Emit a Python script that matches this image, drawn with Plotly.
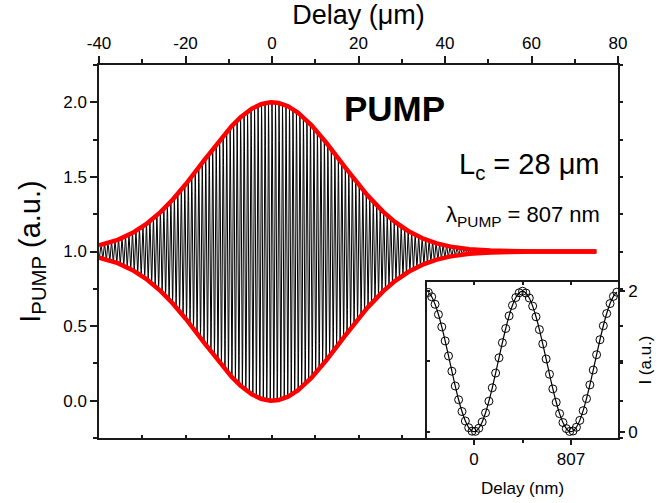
import numpy as np
import plotly.graph_objects as go

# ---- values ----
DELAY_START_UM = -40.0      # first delay of the scan (µm)
DELAY_END_UM = 75.0         # last delay of the scan (µm)
WAVELENGTH_UM = 0.807       # λ_PUMP, fringe period (µm)
ENVELOPE_SIGMA_UM = 15.8    # Gaussian width of fringe envelope (µm)
BASELINE = 1.0              # background intensity

main_x_range = [-40, 80]
main_y_range = [-0.25, 2.25]
main_x_ticks = [-40, -20, 0, 20, 40, 60, 80]
main_x_ticktext = ["-40", "-20", "0", "20", "40", "60", "80"]

inset_delay_nm = [-380, -352, -324, -296, -268, -240, -212, -184, -156, -128,
                  -100, -72, -44, -16, 12, 40, 68, 96, 124, 152,
                  180, 208, 236, 264, 292, 320, 348, 376, 404, 432,
                  460, 488, 516, 544, 572, 600, 628, 656, 684, 712,
                  740, 768, 796, 824, 852, 880, 908, 936, 964, 992,
                  1020, 1048, 1076, 1104, 1132, 1160, 1188]
inset_intensity = [1.983, 1.921, 1.814, 1.669, 1.492, 1.292, 1.078, 0.861, 0.650, 0.455,
                   0.287, 0.152, 0.057, 0.007, 0.005, 0.049, 0.138, 0.269, 0.434, 0.625,
                   0.835, 1.052, 1.267, 1.469, 1.649, 1.799, 1.910, 1.978, 2.000, 1.974,
                   1.903, 1.788, 1.636, 1.454, 1.250, 1.035, 0.818, 0.609, 0.419, 0.257,
                   0.130, 0.044, 0.003, 0.010, 0.063, 0.161, 0.299, 0.470, 0.666, 0.878,
                   1.096, 1.309, 1.508, 1.682, 1.824, 1.927, 1.986]
inset_x_range = [-391, 1198]
inset_y_range = [-0.09, 2.13]
inset_tick_vals = [0, 807]
inset_tick_text = ["0", "807"]

# ---- interferogram ----
delay_um = np.linspace(DELAY_START_UM, DELAY_END_UM, 8000)
envelope = np.exp(-delay_um**2 / (2 * ENVELOPE_SIGMA_UM**2))
signal = BASELINE + envelope * np.cos(2 * np.pi * delay_um / WAVELENGTH_UM)
upper = BASELINE + envelope
lower = BASELINE - envelope

AX = "#1a1a1a"
FONT = "Arial, Liberation Sans, sans-serif"

fig = go.Figure()
fig.add_trace(go.Scatter(x=delay_um, y=signal, mode="lines",
                         line=dict(color="black", width=1), hoverinfo="skip"))
fig.add_trace(go.Scatter(x=delay_um, y=upper, mode="lines",
                         line=dict(color="#ff0000", width=4.5), hoverinfo="skip"))
fig.add_trace(go.Scatter(x=delay_um, y=lower, mode="lines",
                         line=dict(color="#ff0000", width=4.5), hoverinfo="skip"))
fig.add_trace(go.Scatter(x=inset_delay_nm, y=inset_intensity, mode="lines",
                         line=dict(color="black", width=1.2, shape="spline"),
                         xaxis="x2", yaxis="y2", hoverinfo="skip"))
fig.add_trace(go.Scatter(x=inset_delay_nm, y=inset_intensity, mode="markers",
                         marker=dict(symbol="circle-open", size=8, color="black",
                                     line=dict(width=1)),
                         xaxis="x2", yaxis="y2", hoverinfo="skip"))
# invisible helpers so that the mirrored frame axes get drawn
fig.add_trace(go.Scatter(x=[0], y=[1], mode="markers", opacity=0,
                         xaxis="x3", yaxis="y3", hoverinfo="skip"))
fig.add_trace(go.Scatter(x=[0], y=[1], mode="markers", opacity=0,
                         xaxis="x4", yaxis="y4", hoverinfo="skip"))

common = dict(showgrid=False, zeroline=False, showline=True, linecolor=AX,
              linewidth=1.5, tickcolor=AX, tickwidth=1.5, automargin=False)

fig.update_layout(
    width=659, height=503,
    margin=dict(l=99, r=41, t=65, b=65, autoexpand=False),
    plot_bgcolor="white", paper_bgcolor="white",
    showlegend=False,
    font=dict(family=FONT, color="black"),
    xaxis=dict(domain=[0, 1], anchor="y", side="top", range=main_x_range,
               tickmode="array", tickvals=main_x_ticks, ticktext=main_x_ticktext,
               ticks="outside", ticklen=7,
               tickfont=dict(size=17),
               minor=dict(tickmode="array", tickvals=[-30, -10, 10, 30, 50, 70],
                          ticks="outside", ticklen=4,
                          tickcolor=AX, tickwidth=1.5, showgrid=False),
               title=dict(text="Delay (μm)", font=dict(size=27), standoff=4),
               **common),
    xaxis3=dict(overlaying="x", anchor="y", side="bottom", range=main_x_range,
                tick0=0, dtick=10, ticks="inside", ticklen=3,
                showticklabels=False, **common),
    yaxis=dict(domain=[0, 1], anchor="x", range=main_y_range,
               tick0=0, dtick=0.5, tickformat=".1f", ticks="outside", ticklen=7,
               tickfont=dict(size=17),
               minor=dict(dtick=0.25, tick0=0, ticks="outside", ticklen=4,
                          tickcolor=AX, tickwidth=1.5, showgrid=False),
               title=dict(text="I<sub>PUMP</sub> (a.u.)", font=dict(size=29), standoff=14),
               **common),
    yaxis3=dict(overlaying="y", anchor="x", side="right", range=main_y_range,
                tick0=0, dtick=0.25, ticks="outside", ticklen=3,
                showticklabels=False, **common),
    xaxis2=dict(domain=[0.632, 1], anchor="y2", range=inset_x_range,
                tickmode="array", tickvals=inset_tick_vals, ticktext=inset_tick_text,
                ticks="outside", ticklen=5, tickfont=dict(size=17),
                minor=dict(tickmode="array", tickvals=[403.5], ticks="outside",
                           ticklen=3, tickcolor=AX, tickwidth=1.5, showgrid=False),
                title=dict(text="Delay (nm)", font=dict(size=17), standoff=14),
                **common),
    xaxis4=dict(overlaying="x2", anchor="y2", side="top", range=inset_x_range,
                tickmode="array", tickvals=[0, 403.5, 807], ticks="inside", ticklen=3,
                showticklabels=False, **common),
    yaxis2=dict(domain=[0, 0.418], anchor="x2", side="right", range=inset_y_range,
                tickmode="array", tickvals=[0, 2], ticktext=["0", "2"],
                ticks="outside", ticklen=5, tickfont=dict(size=17),
                minor=dict(tickmode="array", tickvals=[1], ticks="outside",
                           ticklen=3, tickcolor=AX, tickwidth=1.5, showgrid=False),
                title=dict(text="I (a.u.)", font=dict(size=17), standoff=2),
                **common),
    yaxis4=dict(overlaying="y2", anchor="x2", side="left", range=inset_y_range,
                tickmode="array", tickvals=[0, 1, 2], ticks="inside", ticklen=3,
                showticklabels=False, **common),
    annotations=[
        dict(text="<b>PUMP</b>", x=28.4, y=1.96, xref="x", yref="y",
             xanchor="center", yanchor="middle", showarrow=False,
             font=dict(size=35, family=FONT)),
        dict(text="L<sub>c</sub> = 28 μm", x=76.3, y=1.57, xref="x", yref="y",
             xanchor="right", yanchor="middle", showarrow=False,
             font=dict(size=29, family=FONT)),
        dict(text="λ<sub>PUMP</sub> = 807 nm", x=76.3, y=1.235, xref="x", yref="y",
             xanchor="right", yanchor="middle", showarrow=False,
             font=dict(size=22, family=FONT)),
    ],
)

fig.write_html("out.html", config={"displayModeBar": False})

# remove the browser's default page margin so the figure sits at (0, 0)
with open("out.html", "r", encoding="utf-8") as f:
    html = f.read()
html = html.replace("<body>", '<body style="margin:0;padding:0;overflow:hidden">', 1)
with open("out.html", "w", encoding="utf-8") as f:
    f.write(html)
